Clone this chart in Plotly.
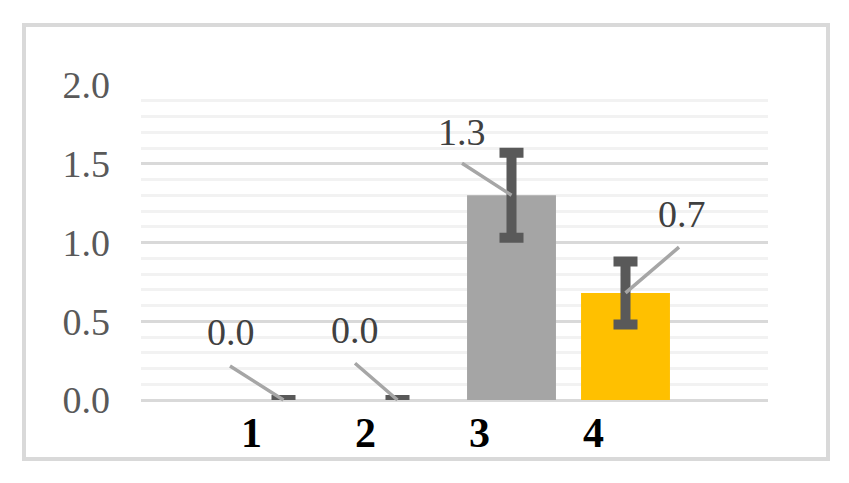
import plotly.graph_objects as go

# chart data
categories = [1, 2, 3, 4]
cat_labels = ["1", "2", "3", "4"]
values = [0.0, 0.0, 1.3, 0.68]
errors = [0.0, 0.0, 0.27, 0.20]
value_text = ["0.0", "0.0", "1.3", "0.7"]
bar_colors = ["#a5a5a5", "#a5a5a5", "#a5a5a5", "#ffc000"]

# label placement (pixel offsets for leader line start and for text)
leader_dx = [-55, -44, -51, 55]
leader_dy = [-35, -38, -33, -47]
text_dx = [-53, -43, -50, 56]
text_dy = [68, 70, 63, 79]

W, H = 849, 483
L, R, T, B = 141, 81, 85, 83
pw, ph = W - L - R, H - T - B

FONT = "Liberation Serif, Times New Roman, serif"

fig = go.Figure()
fig.add_trace(go.Bar(
    x=categories,
    y=values,
    width=0.78,
    marker=dict(color=bar_colors, line=dict(width=0)),
    error_y=dict(type="data", array=errors, visible=True,
                 color="#595959", thickness=10, width=12),
    hoverinfo="skip",
))

for c, v, t, lx, ly, tx, ty in zip(categories, values, value_text,
                                   leader_dx, leader_dy, text_dx, text_dy):
    # leader line
    fig.add_annotation(x=c, y=v, text="", showarrow=True, arrowhead=0,
                       arrowwidth=3.5, arrowcolor="#a6a6a6", standoff=0,
                       ax=lx, ay=ly, xref="x", yref="y")
    # value label
    fig.add_annotation(x=c, y=v, text=t, showarrow=False,
                       xshift=tx, yshift=ty,
                       font=dict(family=FONT, size=38, color="#404040"))

# outer chart frame
def px_x(p):
    return (p - L) / pw

def px_y(p):
    return (H - B - p) / ph

fig.add_shape(type="rect", xref="paper", yref="paper",
              x0=px_x(24), x1=px_x(828), y0=px_y(459), y1=px_y(25),
              line=dict(color="#d9d9d9", width=4), layer="below")

fig.update_layout(
    width=W, height=H,
    margin=dict(l=L, r=R, t=T, b=B),
    paper_bgcolor="white",
    plot_bgcolor="white",
    showlegend=False,
    bargap=0.2,
)
fig.update_xaxes(
    range=[-0.25, 5.25],
    tickvals=[c - 0.28 for c in categories],
    ticktext=cat_labels,
    tickfont=dict(family=FONT, size=42, color="#000000", weight="bold"),
    showgrid=False, zeroline=False, showline=False, ticks="",
    ticklabelstandoff=4,
)
fig.update_yaxes(
    range=[0, 2.0],
    dtick=0.5,
    tickformat=".1f",
    tickfont=dict(family=FONT, size=38, color="#595959"),
    showgrid=True, gridcolor="#d9d9d9", gridwidth=3,
    zeroline=True, zerolinecolor="#d9d9d9", zerolinewidth=3,
    showline=False, ticks="",
    ticklabelstandoff=30,
    minor=dict(dtick=0.1, showgrid=True, gridcolor="#f2f2f2", gridwidth=3),
)

fig.write_html("out.html",
               config={"displayModeBar": False},
               post_script="document.body.style.margin='0px';document.body.style.overflow='hidden';")
